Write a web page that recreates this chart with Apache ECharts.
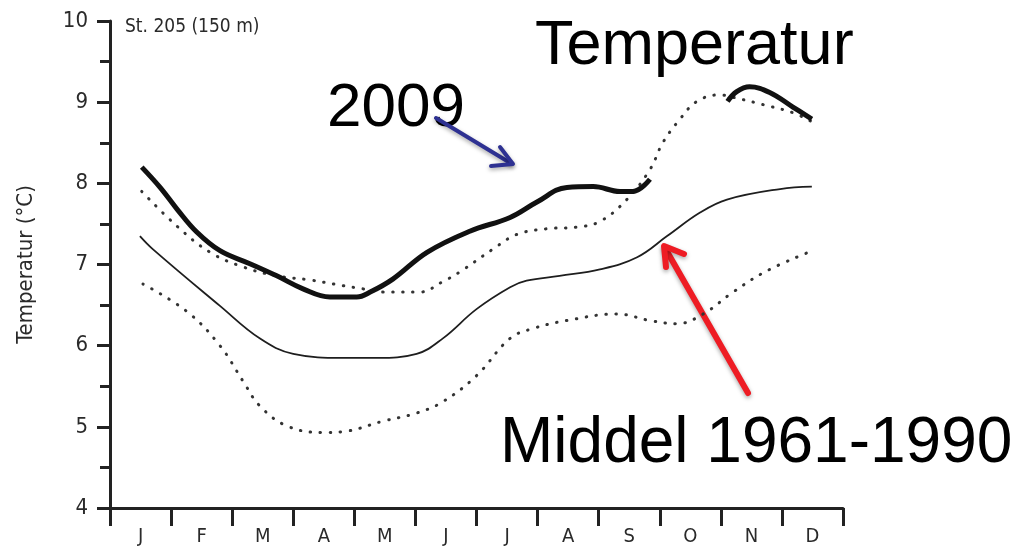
<!DOCTYPE html>
<html>
<head>
<meta charset="utf-8">
<script src="https://cdn.jsdelivr.net/npm/echarts@6/dist/echarts.min.js"></script>
<style>
html,body{margin:0;padding:0;background:#fff;}
#chart{width:1018px;height:547px;}
</style>
</head>
<body>
<div id="chart"></div>
<script>
// ---- data (t = months from start of January, v = °C) ----
const months = ['J','F','M','A','M','J','J','A','S','O','N','D'];
const yTicks = [4,5,6,7,8,9,10];
const mean6190 = [[0.49,7.35],[0.70,7.19],[1.80,6.49],[2.45,6.09],[3.0,5.90],[3.81,5.85],[4.37,5.85],[5.02,5.90],[5.45,6.09],[6.0,6.45],[6.55,6.72],[6.82,6.80],[7.36,6.86],[8.02,6.94],[8.63,7.09],[9.12,7.35],[9.66,7.64],[10.1,7.80],[10.97,7.93],[11.49,7.96]];
const lower6190 = [[0.54,6.76],[1.26,6.42],[1.80,6.00],[2.18,5.56],[2.45,5.26],[2.90,5.01],[3.49,4.93],[3.81,4.94],[4.47,5.07],[5.02,5.17],[5.45,5.31],[6.0,5.63],[6.55,6.09],[6.92,6.21],[7.48,6.31],[8.30,6.39],[8.84,6.31],[9.28,6.27],[9.71,6.39],[10.2,6.66],[10.75,6.92],[11.5,7.17]];
const upper6190 = [[0.52,7.90],[1.10,7.47],[1.64,7.15],[2.18,6.97],[2.73,6.86],[3.27,6.81],[3.81,6.74],[4.14,6.70],[4.47,6.66],[5.07,6.66],[5.45,6.79],[5.73,6.91],[6.27,7.19],[6.66,7.37],[7.15,7.44],[7.64,7.46],[8.02,7.53],[8.46,7.80],[8.84,8.17],[9.05,8.50],[9.33,8.79],[9.61,9.01],[9.98,9.09],[10.2,9.06],[10.69,8.97],[11.18,8.87],[11.49,8.76]];
const y2009a = [[0.52,8.20],[0.82,7.95],[1.10,7.68],[1.42,7.40],[1.80,7.17],[2.29,7.01],[2.73,6.86],[3.16,6.70],[3.60,6.60],[4.04,6.60],[4.26,6.66],[4.63,6.82],[5.19,7.15],[5.89,7.41],[6.55,7.58],[6.99,7.77],[7.48,7.95],[7.91,7.96],[8.35,7.90],[8.56,7.90],[8.84,8.05]];
const y2009b = [[10.11,9.01],[10.26,9.13],[10.47,9.19],[10.80,9.12],[11.18,8.94],[11.49,8.79]];

const narrow = '"Liberation Sans Narrow","DejaVu Sans Condensed",sans-serif';
const arial = '"Liberation Sans",Arial,sans-serif';
const ink = '#222';

const chart = echarts.init(document.getElementById('chart'), null, {renderer:'canvas'});

const dotted = {color:'#333', width:3, type:[0.5,9.5], cap:'round'};

chart.setOption({
  animation:false,
  grid:{left:110, right:175, top:21, bottom:37, containLabel:false},
  xAxis:[
    {type:'category', data:months, boundaryGap:true,
     axisLine:{lineStyle:{color:ink, width:3}},
     axisTick:{show:true, length:18, lineStyle:{color:ink, width:3}, alignWithLabel:false},
     axisLabel:{color:'#2a2a2a', fontFamily:narrow, fontSize:20, margin:19},
     splitLine:{show:false}},
    {type:'value', min:0, max:12, show:false}
  ],
  yAxis:{type:'value', min:yTicks[0], max:yTicks[yTicks.length-1], interval:1,
     name:'Temperatur (°C)', nameLocation:'middle', nameGap:73, nameRotate:90,
     nameTextStyle:{color:'#2a2a2a', fontFamily:narrow, fontSize:22},
     axisLine:{show:true, lineStyle:{color:ink, width:3}},
     axisTick:{show:true, length:13, lineStyle:{color:ink, width:3}},
     minorTick:{show:true, splitNumber:2, length:10, lineStyle:{color:ink, width:3}},
     axisLabel:{color:'#2a2a2a', fontFamily:narrow, fontSize:22, margin:22},
     splitLine:{show:false}},
  series:[
    {type:'line', xAxisIndex:1, data:lower6190, smooth:0.4, symbol:'none', lineStyle:dotted},
    {type:'line', xAxisIndex:1, data:upper6190, smooth:0.4, symbol:'none', lineStyle:dotted},
    {type:'line', xAxisIndex:1, data:mean6190, smooth:0.4, symbol:'none', lineStyle:{color:'#1e1e1e', width:1.8}},
    {type:'line', xAxisIndex:1, data:y2009a, smooth:0.4, symbol:'none', lineStyle:{color:'#111', width:5}},
    {type:'line', xAxisIndex:1, data:y2009b, smooth:0.4, symbol:'none', lineStyle:{color:'#111', width:5}}
  ],
  graphic:[
    {type:'text', left:125, top:18, style:{text:'St. 205 (150 m)', font:'19px '+narrow, fill:'#2a2a2a'}},
    {type:'text', x:535, y:47, style:{text:'Temperatur', font:'63px '+arial, fill:'#000', textVerticalAlign:'middle'}},
    {type:'text', x:327, y:109, style:{text:'2009', font:'62px '+arial, fill:'#000', textVerticalAlign:'middle'}},
    {type:'text', x:500, y:444, style:{text:'Middel 1961-1990', font:'64px '+arial, fill:'#000', textVerticalAlign:'middle'}},
    // blue arrow
    {type:'polyline', shape:{points:[[436,118],[512,164]]}, style:{stroke:'#2e3192', lineWidth:4, lineCap:'round', shadowBlur:4, shadowColor:'rgba(0,0,0,0.35)', shadowOffsetY:2}},
    {type:'polyline', shape:{points:[[500,147],[513,164],[491,166]]}, style:{stroke:'#2e3192', fill:null, lineWidth:4, lineCap:'round', lineJoin:'round', shadowBlur:4, shadowColor:'rgba(0,0,0,0.35)', shadowOffsetY:2}},
    // red arrow
    {type:'polyline', shape:{points:[[748,393],[665,248]]}, style:{stroke:'#ee1c24', lineWidth:6, lineCap:'round', shadowBlur:4, shadowColor:'rgba(0,0,0,0.35)', shadowOffsetY:2}},
    {type:'polyline', shape:{points:[[684,254],[664,246],[666,267]]}, style:{stroke:'#ee1c24', fill:null, lineWidth:6, lineCap:'round', lineJoin:'round', shadowBlur:4, shadowColor:'rgba(0,0,0,0.35)', shadowOffsetY:2}}
  ]
});
</script>
</body>
</html>
